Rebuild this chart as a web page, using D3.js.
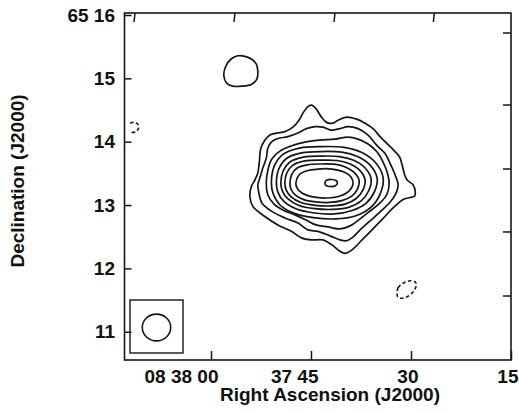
<!DOCTYPE html>
<html>
<head>
<meta charset="utf-8">
<script src="https://cdn.jsdelivr.net/npm/d3@7"></script>
<style>
  body { margin: 0; background: #fff; }
  svg { display: block; }
  text { font-family: "Liberation Sans", Arial, Helvetica, sans-serif; font-weight: bold; fill: #111; }
</style>
</head>
<body>
<svg id="chart" width="519" height="413"></svg>
<script>
// Right ascension in seconds past 08h37m, declination in arcmin past +65 deg (J2000)
const raExtent = [72.975, 15];
const decExtent = [10.554, 16.0316];

const raTicks = [60, 45, 30, 15];
const raTickLabels = ["08 38 00", "37 45", "30", "15"];
const decTicks = [16, 15, 14, 13, 12, 11];
const decTickLabels = ["65 16", "15", "14", "13", "12", "11"];
const raTicksTop = [71.4, 56.4, 41.4, 26.5];
const decTicksRight = [15.716, 14.579, 13.569, 12.575, 11.564];

// Reference position (emission peak); contour vertices are offsets from it in arcsec,
// [east, north].
const refRA = 42.0;
const refDec = 13.348;

// Restoring beam FWHM (arcsec)
const beamMajor = 26.8;
const beamMinor = 25.4;

// Positive contours, outermost first
const contour1 = [[21.7,72.3],[18.4,73.7],[14.2,70.4],[9.0,62.4],[3.8,57.2],[-1.9,56.7],[-6.6,59.5],[-14.6,62.4],[-24.1,60.5],[-32.1,56.7],[-39.7,51.5],[-46.3,43.9],[-52.9,37.3],[-59.5,30.7],[-64.7,24.6],[-67.1,17.0],[-69.5,7.6],[-71.8,2.8],[-77.5,-1.9],[-79.4,-8.0],[-78.9,-12.3],[-74.7,-13.7],[-68.0,-15.6],[-58.6,-23.6],[-48.2,-34.5],[-38.7,-44.4],[-29.3,-53.9],[-19.8,-63.3],[-13.2,-66.6],[-8.5,-64.7],[-0.9,-58.6],[7.6,-53.9],[18.4,-53.9],[27.9,-52.0],[37.3,-45.8],[50.1,-39.7],[62.4,-31.7],[73.7,-22.2],[76.5,-12.8],[75.1,-3.3],[71.8,2.8],[69.0,9.5],[67.6,19.8],[66.2,32.6],[62.4,40.6],[57.6,45.4],[51.0,47.3],[43.5,48.7],[35.9,52.9],[30.2,59.5],[26.5,66.2],[23.6,70.4]];
const contour2 = [[69.0,-1.9],[67.1,4.7],[64.3,14.2],[61.0,23.6],[59.5,33.1],[55.8,39.2],[50.1,42.1],[40.6,43.9],[31.2,47.3],[23.2,51.5],[15.1,53.4],[7.6,52.9],[0.0,50.1],[-8.5,51.5],[-16.1,53.4],[-25.5,51.5],[-35.0,45.4],[-43.0,35.9],[-51.0,27.9],[-55.8,18.4],[-60.5,7.6],[-63.3,-1.9],[-61.4,-9.5],[-55.8,-18.0],[-46.3,-27.4],[-36.9,-35.9],[-27.4,-44.4],[-19.8,-52.0],[-14.2,-54.8],[-8.5,-53.9],[0.9,-50.1],[12.3,-45.8],[21.7,-44.4],[31.2,-37.8],[43.5,-33.1],[55.8,-26.9],[65.2,-18.9],[68.0,-9.5]];
const contour3 = [[61.0,0.0],[59.5,12.3],[55.8,22.7],[48.2,30.2],[37.8,35.0],[24.6,38.7],[10.4,40.6],[-3.8,41.6],[-16.1,43.5],[-25.5,41.6],[-35.0,36.9],[-43.5,29.3],[-49.1,19.8],[-52.9,10.4],[-54.8,0.0],[-52.9,-10.4],[-46.3,-18.9],[-36.9,-26.5],[-27.4,-34.0],[-18.0,-40.6],[-8.5,-43.5],[2.8,-41.6],[14.2,-39.7],[23.6,-35.0],[34.0,-30.2],[45.4,-25.5],[53.9,-19.8],[59.5,-11.3]];
const contour4 = [[56.2,0.2],[53.6,15.7],[45.6,26.9],[29.9,33.1],[8.8,34.5],[-12.3,33.8],[-28.1,29.4],[-41.3,20.1],[-49.1,5.4],[-46.5,-10.0],[-37.5,-23.1],[-22.8,-31.3],[-4.3,-34.0],[16.7,-32.8],[35.2,-28.5],[48.3,-20.6],[54.6,-10.0]];
const contour5 = [[51.5,0.2],[49.1,13.5],[42.0,23.2],[27.8,28.5],[8.8,29.8],[-10.2,29.2],[-24.5,25.3],[-36.4,17.4],[-43.5,4.7],[-41.1,-7.9],[-33.0,-19.2],[-19.8,-26.0],[-3.1,-29.3],[15.9,-28.4],[32.5,-24.7],[44.4,-17.5],[50.1,-8.6]];
const contour6 = [[47.3,0.2],[45.1,11.6],[38.7,19.9],[26.0,24.5],[9.0,25.5],[-8.0,25.0],[-20.8,21.7],[-31.5,14.9],[-37.8,4.1],[-35.7,-7.1],[-28.4,-16.9],[-16.5,-23.1],[-1.7,-25.0],[15.3,-24.3],[30.2,-21.3],[40.8,-14.9],[45.9,-7.4]];
const contour7 = [[43.5,0.0],[41.6,9.7],[35.9,16.9],[24.6,20.9],[9.5,21.7],[-5.7,21.3],[-17.0,18.4],[-26.5,12.6],[-32.1,3.2],[-30.2,-6.5],[-23.8,-14.7],[-13.2,-20.0],[0.0,-21.7],[15.1,-21.1],[28.4,-18.5],[37.8,-13.0],[42.3,-6.5]];
const contour8 = [[38.7,-0.3],[37.1,7.9],[32.2,14.0],[22.4,17.2],[9.4,18.0],[-4.6,17.6],[-13.4,15.2],[-21.5,10.3],[-26.5,2.5],[-24.9,-5.7],[-19.3,-12.6],[-10.2,-16.7],[1.2,-18.4],[14.3,-17.9],[25.7,-15.7],[33.8,-11.2],[37.8,-5.7]];
const contour9 = [[33.1,0.0],[30.2,7.6],[23.6,11.3],[12.3,13.2],[-0.9,13.2],[-12.3,10.4],[-18.9,5.7],[-20.8,-0.9],[-17.0,-7.6],[-8.5,-12.3],[3.8,-14.2],[17.0,-13.2],[27.4,-9.5],[32.1,-4.7]];
const contour10 = [[5.7,0.0],[3.8,2.8],[-0.9,3.3],[-4.7,2.4],[-6.1,0.0],[-3.8,-2.8],[0.9,-3.3],[4.7,-2.4]];

// Isolated positive contour to the north-east
const blobNE = [[101.1,102.1],[99.2,110.6],[94.5,117.2],[87.9,120.5],[81.3,120.0],[74.7,117.2],[70.4,112.5],[69.0,105.8],[69.9,98.3],[74.7,93.6],[84.1,91.7],[92.6,91.7],[98.3,94.5]];

// Negative contours
const negEast = [[189.5,56.7],[185.2,57.6],[181.9,55.3],[181.4,52.0],[183.8,48.7],[189.0,47.7]];
const negSW = [[-62.4,-104.9],[-63.3,-99.2],[-68.0,-95.0],[-74.7,-92.6],[-79.4,-93.6],[-80.3,-97.3],[-77.5,-103.0],[-71.8,-107.7],[-66.2,-109.1],[-62.8,-107.7]];

const positiveContours = [contour1, contour2, contour3, contour4, contour5, contour6, contour7, contour8, contour9, contour10, blobNE];

// ---- layout ----
const frame = { left: 124.5, right: 511, top: 13, bottom: 360 };
const ink = "#161616";

const svg = d3.select("#chart");
const x = d3.scaleLinear().domain(raExtent).range([frame.left, frame.right]);
const y = d3.scaleLinear().domain(decExtent).range([frame.bottom, frame.top]);

const secPerArcsec = 1 / (15 * Math.cos((65 + refDec / 60) * Math.PI / 180));
const px = p => x(refRA + p[0] * secPerArcsec);
const py = p => y(refDec + p[1] / 60);

svg.append("clipPath").attr("id", "plotClip")
  .append("rect")
  .attr("x", frame.left).attr("y", frame.top)
  .attr("width", frame.right - frame.left).attr("height", frame.bottom - frame.top);

const plot = svg.append("g").attr("clip-path", "url(#plotClip)");

const closedLine = d3.line().x(px).y(py).curve(d3.curveCatmullRomClosed.alpha(0.5));
const openLine = d3.line().x(px).y(py).curve(d3.curveCatmullRom.alpha(0.5));

plot.selectAll("path.pos")
  .data(positiveContours)
  .join("path")
  .attr("class", "pos")
  .attr("d", closedLine)
  .attr("fill", "none")
  .attr("stroke", ink)
  .attr("stroke-width", 1.7)
  .attr("stroke-linejoin", "round");

plot.append("path")
  .attr("d", closedLine(negSW))
  .attr("fill", "none").attr("stroke", ink).attr("stroke-width", 1.6)
  .attr("stroke-dasharray", "3.5,2.5");

plot.append("path")
  .attr("d", openLine(negEast))
  .attr("fill", "none").attr("stroke", ink).attr("stroke-width", 1.6)
  .attr("stroke-dasharray", "3.5,2.5");

// Beam in its box, lower-left corner
const beamRx = Math.abs(x(refRA + beamMajor / 2 * secPerArcsec) - x(refRA));
const beamRy = Math.abs(y(refDec + beamMinor / 2 / 60) - y(refDec));
const boxSize = 53;
const boxX = frame.left + 5.5, boxY = frame.bottom - 7 - boxSize;
svg.append("rect")
  .attr("x", boxX).attr("y", boxY).attr("width", boxSize).attr("height", boxSize)
  .attr("fill", "none").attr("stroke", ink).attr("stroke-width", 1.4);
svg.append("ellipse")
  .attr("cx", boxX + boxSize / 2).attr("cy", boxY + boxSize / 2 + 1)
  .attr("rx", beamRx).attr("ry", beamRy)
  .attr("fill", "none").attr("stroke", ink).attr("stroke-width", 1.6);

// Axes
const fontSize = 19;
const xAxis = d3.axisBottom(x)
  .tickValues(raTicks)
  .tickFormat((d, i) => raTickLabels[i])
  .tickSizeInner(-9).tickSizeOuter(0).tickPadding(9.5);
const gx = svg.append("g").attr("transform", `translate(0,${frame.bottom})`).call(xAxis);
gx.select(".domain").remove();
gx.selectAll(".tick line").attr("stroke", ink).attr("stroke-width", 1.5);
gx.selectAll(".tick text")
  .attr("text-anchor", "end").attr("dx", 7)
  .style("font-size", fontSize + "px");

const yAxis = d3.axisLeft(y)
  .tickValues(decTicks)
  .tickFormat((d, i) => decTickLabels[i])
  .tickSizeInner(-7).tickSizeOuter(0).tickPadding(9.5);
const gy = svg.append("g").attr("transform", `translate(${frame.left},0)`).call(yAxis);
gy.select(".domain").remove();
gy.selectAll(".tick line").attr("stroke", ink).attr("stroke-width", 1.5);
gy.selectAll(".tick text").style("font-size", fontSize + "px");

// Ticks along the top and right edges
svg.append("g").selectAll("line")
  .data(raTicksTop).join("line")
  .attr("x1", d => x(d)).attr("y1", frame.top)
  .attr("x2", d => x(d) - 1).attr("y2", frame.top + 9)
  .attr("stroke", ink).attr("stroke-width", 1.5);
svg.append("g").selectAll("line")
  .data(decTicksRight).join("line")
  .attr("x1", frame.right).attr("y1", d => y(d))
  .attr("x2", frame.right - 8).attr("y2", d => y(d))
  .attr("stroke", ink).attr("stroke-width", 1.5);

// Frame
svg.append("rect")
  .attr("x", frame.left).attr("y", frame.top)
  .attr("width", frame.right - frame.left).attr("height", frame.bottom - frame.top)
  .attr("fill", "none").attr("stroke", ink).attr("stroke-width", 1.6);

// Axis titles
svg.append("text")
  .attr("x", 330).attr("y", 400.5)
  .attr("text-anchor", "middle")
  .style("font-size", fontSize + "px")
  .text("Right Ascension (J2000)");
svg.append("text")
  .attr("transform", "translate(24,181) rotate(-90)")
  .attr("text-anchor", "middle")
  .style("font-size", fontSize + "px")
  .text("Declination (J2000)");
</script>
</body>
</html>
